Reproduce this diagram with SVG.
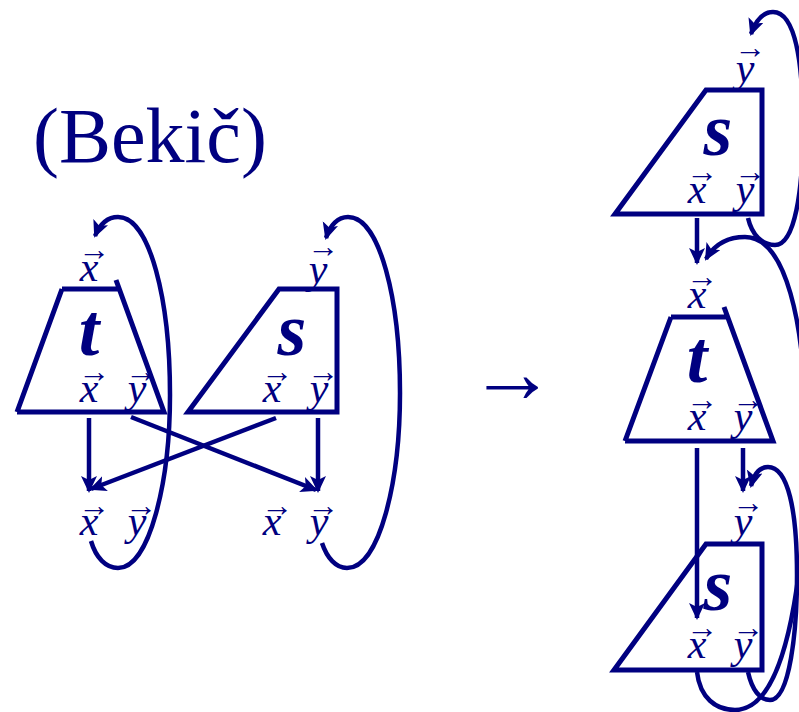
<svg xmlns="http://www.w3.org/2000/svg" width="799" height="712" viewBox="0 0 799 712">
<style>
.b{fill:none;stroke:#000080;stroke-width:5;stroke-linejoin:miter}
.c{fill:none;stroke:#000080;stroke-width:4.5;marker-end:url(#ah)}
.v{font-family:"Liberation Serif",serif;font-style:italic;font-size:42px;fill:#000080;text-anchor:middle}
.a{font-family:"Liberation Serif",serif;font-size:32px;fill:#000080;text-anchor:middle}
.n{font-family:"Liberation Serif",serif;font-style:italic;font-weight:bold;font-size:74px;fill:#000080;text-anchor:middle}
.h{font-family:"Liberation Serif",serif;font-size:78px;fill:#000080}
</style>
<defs>
<marker id="ah" markerUnits="userSpaceOnUse" markerWidth="20" markerHeight="18" refX="15" refY="8" orient="auto">
<path d="M0,0 L17,8 L0,16 L4,8 z" fill="#000080"/>
</marker>
</defs>
<text class="h" x="33" y="162">(Bekič)</text>
<text x="512" y="402" style="font-family:'Liberation Serif',serif;font-size:87px;fill:#000080;text-anchor:middle">→</text>

<g id="t-left">
<path class="b" d="M62,289 L118,289 M17,412 L62,289 M116,280 L164,412 L17,412"/>
<text class="n" x="89" y="355">t</text>
<text class="v" x="89" y="281">x</text><text class="a" x="94" y="260">→</text>
<text class="v" x="89" y="402">x</text><text class="a" x="94" y="382">→</text>
<text class="v" x="137" y="402">y</text><text class="a" x="141" y="382">→</text>
</g>
<g id="s-left">
<path class="b" d="M279,289 L337,289 L337,412 L188,412 Z"/>
<text class="n" x="292" y="355">s</text>
<text class="v" x="318" y="283">y</text><text class="a" x="323" y="257">→</text>
<text class="v" x="272" y="402">x</text><text class="a" x="277" y="382">→</text>
<text class="v" x="319" y="402">y</text><text class="a" x="323" y="382">→</text>
</g>
<g id="out-left">
<text class="v" x="89" y="535">x</text><text class="a" x="94" y="516">→</text>
<text class="v" x="137" y="535">y</text><text class="a" x="141" y="516">→</text>
<text class="v" x="272" y="535">x</text><text class="a" x="277" y="516">→</text>
<text class="v" x="319" y="535">y</text><text class="a" x="323" y="516">→</text>
</g>

<g id="s-top">
<path class="b" d="M706,90 L762,90 L762,214 L615,214 Z"/>
<text class="n" x="718" y="155">s</text>
<text class="v" x="745" y="82">y</text><text class="a" x="750" y="58">→</text>
<text class="v" x="697" y="203">x</text><text class="a" x="702" y="182">→</text>
<text class="v" x="745" y="203">y</text><text class="a" x="750" y="182">→</text>
</g>
<g id="t-mid">
<path class="b" d="M671,317 L727,317 M625,441 L671,317 M724,307 L773,441 L625,441"/>
<text class="n" x="697" y="382">t</text>
<text class="v" x="697" y="308">x</text><text class="a" x="702" y="287">→</text>
<text class="v" x="697" y="430">x</text><text class="a" x="702" y="410">→</text>
<text class="v" x="743" y="430">y</text><text class="a" x="748" y="410">→</text>
</g>
<g id="s-bottom">
<path class="b" d="M706,544 L762,544 L762,670 L614,670 Z"/>
<text class="n" x="718" y="610">s</text>
<text class="v" x="743" y="535">y</text><text class="a" x="748" y="513">→</text>
<text class="v" x="697" y="658">x</text><text class="a" x="702" y="638">→</text>
<text class="v" x="743" y="658">y</text><text class="a" x="748" y="638">→</text>
</g>

<g id="connectors">
<path class="c" d="M89,418 L89,491"/>
<path class="c" d="M276,418 L91,489"/>
<path class="c" d="M131,417 L316,490"/>
<path class="c" d="M318,418 L318,491"/>
<path class="c" d="M91,541 C96,558 106,568 118,568 C150,568 170,480 170,395 C170,300 150,217 118,217 C108,217 100,224 95,236"/>
<path class="c" d="M322,543 C327,558 336,568 347,568 C380,568 400,480 400,393 C400,300 380,217 348,217 C338,217 330,225 326,238"/>
<path class="c" d="M697,218 L697,263"/>
<path class="c" d="M697,448 L697,618"/>
<path class="c" d="M743,448 L743,491"/>
<path class="c" d="M748,218 C752,235 762,245 775,245 C795,245 803,190 803,128 C803,60 795,12 773,12 C763,12 756,20 751,34"/>
<path class="c" d="M697,672 C700,698 716,710 735,710 C790,710 806,560 806,440 C806,320 785,237 745,237 C727,237 714,245 706,259"/>
<path class="c" d="M748,672 C752,690 760,700 770,700 C790,700 797,630 797,575 C797,510 788,467 768,467 C760,467 754,474 751,486"/>
</g>
</svg>
